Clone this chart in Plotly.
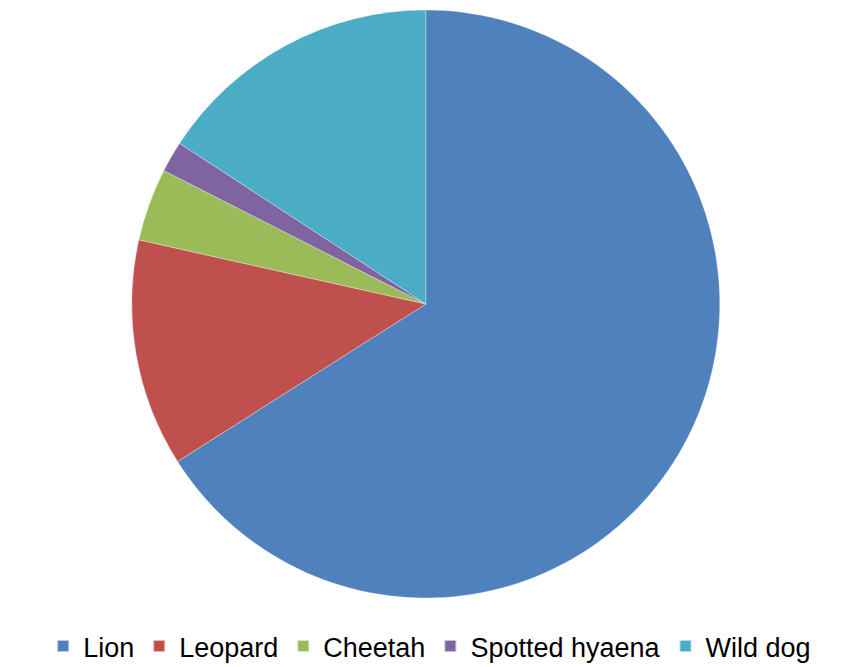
import plotly.graph_objects as go

categories = ["Lion", "Leopard", "Cheetah", "Spotted hyaena", "Wild dog"]
values = [66.0, 12.5, 4.0, 1.7, 15.8]
colors = ["#4F81BD", "#C0504D", "#9BBB59", "#8064A2", "#4BACC6"]

fig = go.Figure(go.Pie(
    labels=categories,
    values=values,
    sort=False,
    direction="clockwise",
    rotation=0,
    textinfo="none",
    hoverinfo="label+value",
    marker=dict(colors=colors, line=dict(color="rgba(255,255,255,0.6)", width=0.5)),
    domain=dict(x=[0, 0.975], y=[0, 1]),
))

fig.update_layout(
    width=857, height=667,
    margin=dict(l=0, r=0, t=2, b=77),
    paper_bgcolor="white",
    plot_bgcolor="white",
    showlegend=True,
    legend=dict(
        orientation="h",
        xref="container", yref="container",
        x=0.492, xanchor="center",
        y=0.006, yanchor="bottom",
        font=dict(family="Liberation Sans, Arial", size=27, color="black"),
        itemsizing="constant",
        tracegroupgap=0,
    ),
)

fig.write_html("out.html")
